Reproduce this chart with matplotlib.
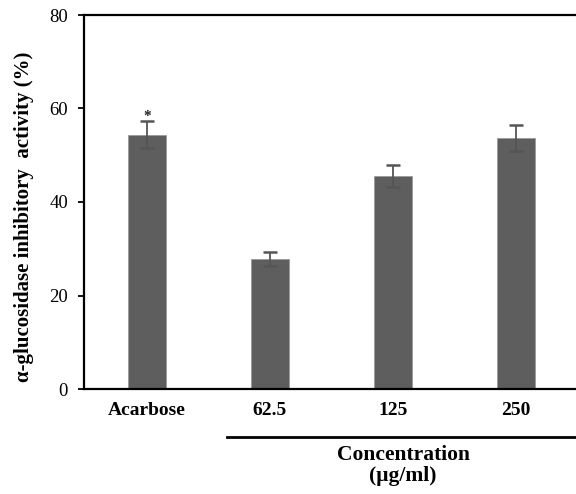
import matplotlib
matplotlib.use("Agg")
import matplotlib.pyplot as plt

categories = ["Acarbose", "62.5", "125", "250"]
values = [54.4, 27.8, 45.6, 53.7]
errors = [2.9, 1.5, 2.4, 2.8]
yticks = [0, 20, 40, 60, 80]

plt.rcParams['font.family'] = ['Liberation Serif', 'DejaVu Serif']

fig = plt.figure(figsize=(5.76, 4.94), dpi=100)
ax = fig.add_axes([84/576, 105/494, 1 - 84/576, (389-15)/494])

x = list(range(len(categories)))
ax.bar(x, values, width=0.31, color="#5e5e5e", edgecolor="#9a9a9a", linewidth=0.6,
       yerr=errors, error_kw=dict(ecolor="#555555", elinewidth=1.3, capsize=5, capthick=1.8))
ax.text(x[0], values[0] + errors[0] + 1.0, "*", ha="center", va="center", fontsize=11,
        fontweight="bold", color="#222222")

ax.set_xlim(-0.51, 3.49)
ax.set_ylim(0, 80)
ax.set_yticks(yticks)
ax.set_yticklabels([str(t) for t in yticks], fontsize=13.5)
ax.set_xticks(x)
ax.set_xticklabels(categories, fontsize=14, fontweight="bold")
ax.tick_params(axis="x", length=0, pad=9)
ax.tick_params(axis="y", length=4.5, width=1.3, direction="out", pad=7)
for s in ["left", "bottom", "top"]:
    ax.spines[s].set_linewidth(1.6)
ax.spines["right"].set_visible(False)

fig.text(24/576, 1 - 217/494, "α-glucosidase inhibitory  activity (%)", rotation=90,
         ha="center", va="center", fontsize=15, fontweight="bold")

fig.add_artist(plt.Line2D([227/576, 1.0], [1 - 437/494, 1 - 437/494], color="black",
                          linewidth=2, transform=fig.transFigure))
fig.text(403/576, 1 - 455/494, "Concentration", ha="center", va="center", fontsize=15.5,
         fontweight="bold")
fig.text(403/576, 1 - 476/494, "(μg/ml)", ha="center", va="center", fontsize=15.5,
         fontweight="bold")

fig.savefig("out.png", dpi=100)
